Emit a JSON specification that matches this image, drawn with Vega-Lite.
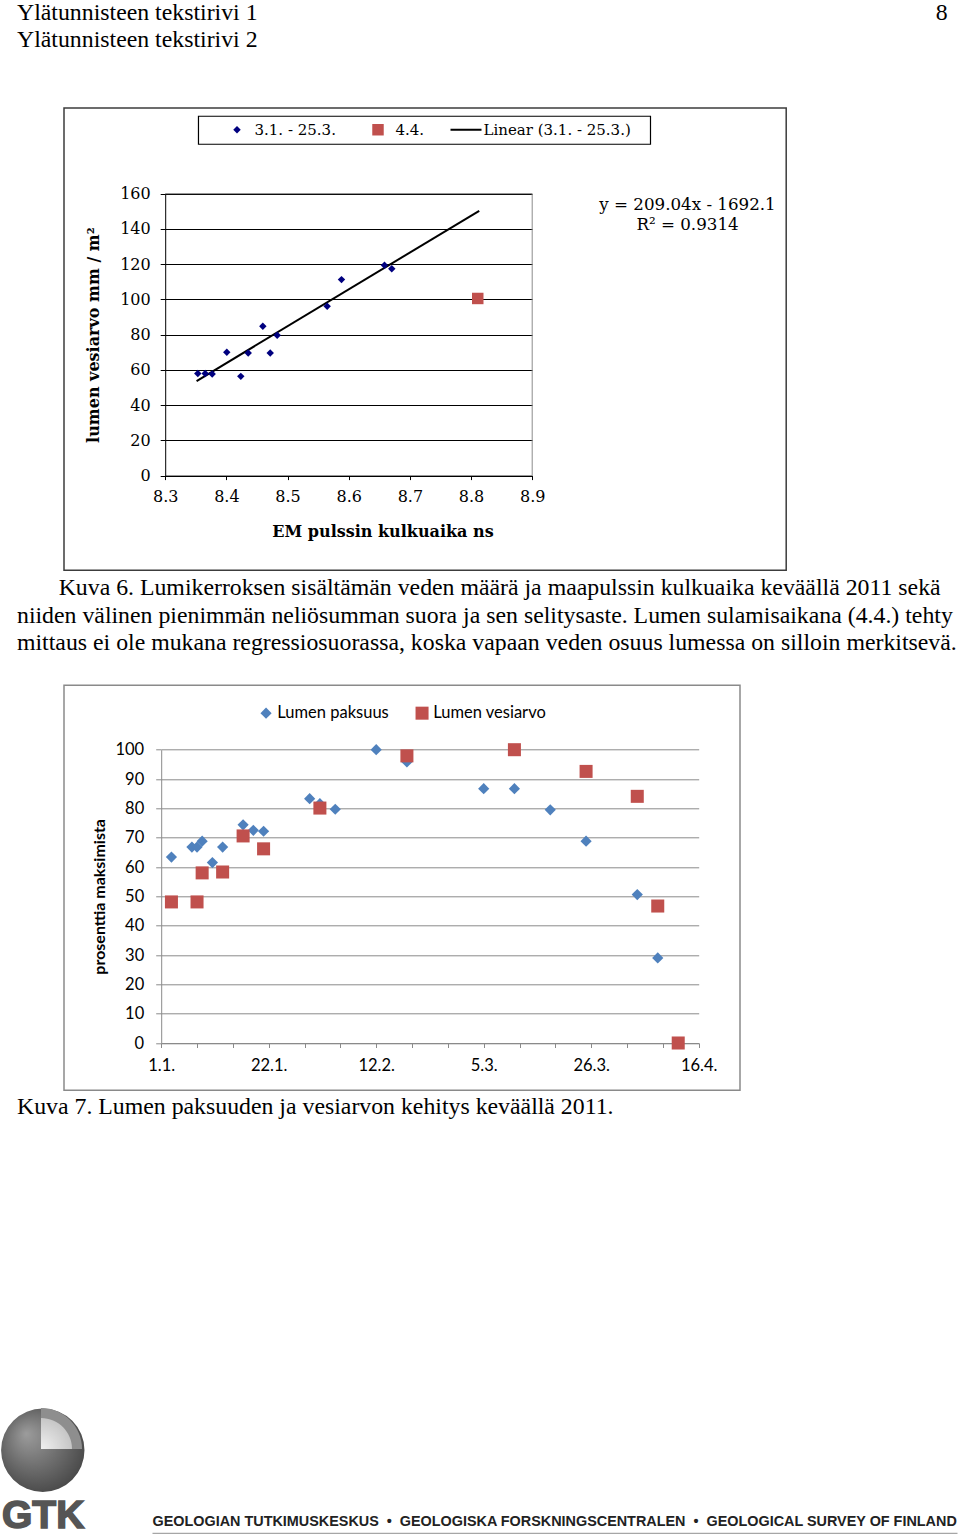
{
  "$schema": "https://vega.github.io/schema/vega-lite/v6.json",
  "background": "white",
  "autosize": {"type": "pad"},
  "padding": {"left": 1, "top": 0, "right": 0, "bottom": 0},
  "spacing": 114.3,
  "bounds": "flush",
  "resolve": {"scale": {"color": "independent", "shape": "independent"}},
  "config": {
    "view": {"stroke": null},
    "axis": {"labelFlush": false, "labelOverlap": false, "grid": false},
    "title": {"font": "Liberation Serif", "fontSize": 23.8, "fontWeight": "normal", "color": "#000", "anchor": "start", "frame": "group"}
  },
  "vconcat": [
    {
      "width": 722.2,
      "height": 462.3,
      "view": {"stroke": "#3c3c3c", "strokeWidth": 1.5},
      "title": {"text": ["Ylätunnisteen tekstirivi 1\u2003\u2003\u2003\u2003\u2003\u2003\u2003\u2003\u2003\u2003\u2003\u2003\u2003\u2003\u2003\u2003\u2003\u2003\u2003\u2003\u2003\u2003\u2003\u2003\u2003\u2003\u2003\u2003\u00a0\u00a08", "Ylätunnisteen tekstirivi 2"], "dx": -47, "offset": 56, "lineHeight": 27},
      "layer": [
        {
          "data": {"values": [{"edge": "top"}]},
          "mark": {"type": "rule", "color": "#8c8c8c", "strokeWidth": 1},
          "encoding": {
            "x": {"datum": 8.3, "type": "quantitative", "scale": {"domain": [8.3, 8.9], "range": [101.2, 468.2], "zero": false, "nice": false}},
            "x2": {"datum": 8.9},
            "y": {"datum": 160, "type": "quantitative", "scale": {"domain": [0, 160], "range": [367.6, 85.6], "zero": false, "nice": false}}
          }
        },
        {
          "data": {"values": [{"edge": "right"}]},
          "mark": {"type": "rule", "color": "#8c8c8c", "strokeWidth": 1},
          "encoding": {
            "x": {"datum": 8.9, "type": "quantitative"},
            "y": {"datum": 0, "type": "quantitative"},
            "y2": {"datum": 160}
          }
        },
        {
          "data": {"values": [{"box": "legend frame"}]},
          "mark": {"type": "rect", "filled": false, "stroke": "#000", "strokeWidth": 1.2},
          "encoding": {
            "x": {"datum": 8.3544, "type": "quantitative"},
            "x2": {"datum": 9.0934},
            "y": {"datum": 203.9, "type": "quantitative"},
            "y2": {"datum": 188.0}
          }
        },
        {
          "data": {"values": [{"ns": 8.3513, "mm": 53.66}, {"ns": 8.8134, "mm": 150.25}]},
          "mark": {"type": "line", "color": "#000", "strokeWidth": 2},
          "encoding": {
            "x": {"field": "ns", "type": "quantitative"},
            "y": {"field": "mm", "type": "quantitative"}
          }
        },
        {
          "data": {"values": [
            {"ns": 8.3533, "mm": 57.9, "series": "3.1. - 25.3."},
            {"ns": 8.3654, "mm": 57.9, "series": "3.1. - 25.3."},
            {"ns": 8.3768, "mm": 57.6, "series": "3.1. - 25.3."},
            {"ns": 8.4007, "mm": 70.0, "series": "3.1. - 25.3."},
            {"ns": 8.4236, "mm": 56.3, "series": "3.1. - 25.3."},
            {"ns": 8.4357, "mm": 69.6, "series": "3.1. - 25.3."},
            {"ns": 8.4596, "mm": 84.7, "series": "3.1. - 25.3."},
            {"ns": 8.4717, "mm": 69.6, "series": "3.1. - 25.3."},
            {"ns": 8.4831, "mm": 79.6, "series": "3.1. - 25.3."},
            {"ns": 8.5648, "mm": 96.1, "series": "3.1. - 25.3."},
            {"ns": 8.5882, "mm": 111.2, "series": "3.1. - 25.3."},
            {"ns": 8.6585, "mm": 119.3, "series": "3.1. - 25.3."},
            {"ns": 8.6704, "mm": 117.4, "series": "3.1. - 25.3."},
            {"ns": 8.811, "mm": 100.5, "series": "4.4."}
          ]},
          "mark": {"type": "point", "filled": true, "opacity": 1, "size": 961, "strokeWidth": 0},
          "encoding": {
            "x": {"field": "ns", "type": "quantitative",
              "axis": {"values": [8.3, 8.4, 8.5, 8.6, 8.7, 8.8, 8.9], "format": ".1f", "orient": "bottom", "offset": -94.7,
                "domainColor": "#000", "domainWidth": 1, "tickColor": "#000", "tickSize": 4, "tickWidth": 1,
                "labelFont": "DejaVu Serif", "labelFontSize": 16, "labelColor": "#000", "labelPadding": 9,
                "title": "EM pulssin kulkuaika ns", "titleFont": "DejaVu Serif", "titleFontSize": 16, "titleFontWeight": "bold", "titleColor": "#000", "titlePadding": 19, "titleX": 318.5, "grid": false}},
            "y": {"field": "mm", "type": "quantitative",
              "axis": {"values": [0, 20, 40, 60, 80, 100, 120, 140, 160], "orient": "left", "offset": -101.2,
                "domainColor": "#000", "domainWidth": 1, "tickColor": "#000", "tickSize": 5, "tickWidth": 1,
                "labelFont": "DejaVu Serif", "labelFontSize": 16, "labelColor": "#000", "labelPadding": 10,
                "title": "lumen vesiarvo mm / m²", "titleFont": "DejaVu Serif", "titleFontSize": 16, "titleFontWeight": "bold", "titleColor": "#000", "titlePadding": 18,
                "grid": true, "gridColor": "#000", "gridWidth": 1}},
            "color": {"field": "series", "type": "nominal",
              "scale": {"domain": ["3.1. - 25.3.", "4.4.", "Linear (3.1. - 25.3.)"], "range": ["#00007f", "#C0504D", "#000000"]},
              "legend": {"orient": "none", "legendX": 157.5, "legendY": 6, "direction": "horizontal", "title": null,
                "labelFont": "DejaVu Serif", "labelFontSize": 15, "labelColor": "#000", "labelOffset": 2, "labelLimit": 400,
                "symbolSize": 961, "symbolStrokeWidth": 0, "columnPadding": 26, "padding": 0}},
            "shape": {"field": "series", "type": "nominal",
              "scale": {"domain": ["3.1. - 25.3.", "4.4.", "Linear (3.1. - 25.3.)"], "range": ["M-0.24,0L0,-0.24L0.24,0L0,0.24Z", "M-0.37,-0.37H0.37V0.37H-0.37Z", "M-1,-0.065H1V0.065H-1Z"]}}
          }
        },
        {
          "data": {"values": [{"label": "trendline equation"}]},
          "mark": {"type": "text", "font": "DejaVu Serif", "fontSize": 16.7, "align": "center", "baseline": "middle", "lineHeight": 20, "color": "#000"},
          "encoding": {
            "x": {"datum": 9.1539, "type": "quantitative"},
            "y": {"datum": 153.4, "type": "quantitative"},
            "text": {"value": ["y = 209.04x - 1692.1", "R² = 0.9314"]}
          }
        }
      ]
    },
    {
      "width": 676,
      "height": 405,
      "view": {"stroke": "#8a8a8a", "strokeWidth": 1.5},
      "title": {"text": [
        "\u200b\u00a0\u00a0\u00a0\u00a0\u00a0\u00a0\u00a0Kuva 6. Lumikerroksen sisältämän veden määrä ja maapulssin kulkuaika keväällä 2011 sekä",
        "niiden välinen pienimmän neliösumman suora ja sen selitysaste. Lumen sulamisaikana (4.4.) tehty",
        "mittaus ei ole mukana regressiosuorassa, koska vapaan veden osuus lumessa on silloin merkitsevä."
      ], "dx": -47, "offset": 30.3, "lineHeight": 27.5},
      "data": {"values": [
        {"date": "2011-01-03", "pct": 63.4, "series": "Lumen paksuus"},
        {"date": "2011-01-07", "pct": 66.8, "series": "Lumen paksuus"},
        {"date": "2011-01-08", "pct": 66.8, "series": "Lumen paksuus"},
        {"date": "2011-01-09", "pct": 68.8, "series": "Lumen paksuus"},
        {"date": "2011-01-11", "pct": 61.5, "series": "Lumen paksuus"},
        {"date": "2011-01-13", "pct": 66.8, "series": "Lumen paksuus"},
        {"date": "2011-01-17", "pct": 74.4, "series": "Lumen paksuus"},
        {"date": "2011-01-19", "pct": 72.5, "series": "Lumen paksuus"},
        {"date": "2011-01-21", "pct": 72.2, "series": "Lumen paksuus"},
        {"date": "2011-01-30", "pct": 83.3, "series": "Lumen paksuus"},
        {"date": "2011-02-01", "pct": 81.6, "series": "Lumen paksuus"},
        {"date": "2011-02-04", "pct": 79.7, "series": "Lumen paksuus"},
        {"date": "2011-02-12", "pct": 100, "series": "Lumen paksuus"},
        {"date": "2011-02-18", "pct": 95.8, "series": "Lumen paksuus"},
        {"date": "2011-03-05", "pct": 86.7, "series": "Lumen paksuus"},
        {"date": "2011-03-11", "pct": 86.7, "series": "Lumen paksuus"},
        {"date": "2011-03-18", "pct": 79.5, "series": "Lumen paksuus"},
        {"date": "2011-03-25", "pct": 68.8, "series": "Lumen paksuus"},
        {"date": "2011-04-04", "pct": 50.6, "series": "Lumen paksuus"},
        {"date": "2011-04-08", "pct": 29.0, "series": "Lumen paksuus"},
        {"date": "2011-01-03", "pct": 48.1, "series": "Lumen vesiarvo"},
        {"date": "2011-01-08", "pct": 48.1, "series": "Lumen vesiarvo"},
        {"date": "2011-01-09", "pct": 58.0, "series": "Lumen vesiarvo"},
        {"date": "2011-01-13", "pct": 58.3, "series": "Lumen vesiarvo"},
        {"date": "2011-01-17", "pct": 70.6, "series": "Lumen vesiarvo"},
        {"date": "2011-01-21", "pct": 66.2, "series": "Lumen vesiarvo"},
        {"date": "2011-02-01", "pct": 80.1, "series": "Lumen vesiarvo"},
        {"date": "2011-02-18", "pct": 97.9, "series": "Lumen vesiarvo"},
        {"date": "2011-03-11", "pct": 100, "series": "Lumen vesiarvo"},
        {"date": "2011-03-25", "pct": 92.6, "series": "Lumen vesiarvo"},
        {"date": "2011-04-04", "pct": 84.1, "series": "Lumen vesiarvo"},
        {"date": "2011-04-08", "pct": 46.7, "series": "Lumen vesiarvo"},
        {"date": "2011-04-12", "pct": 0, "series": "Lumen vesiarvo"}
      ]},
      "mark": {"type": "point", "filled": true, "opacity": 1, "size": 196, "strokeWidth": 0},
      "encoding": {
        "x": {"field": "date", "type": "temporal",
          "scale": {"type": "utc", "domain": [1293840000000, 1302912000000], "range": [97.2, 634.7], "nice": false},
          "axis": {"values": [1293840000000, 1294444800000, 1295049600000, 1295654400000, 1296259200000, 1296864000000, 1297468800000, 1298073600000, 1298678400000, 1299283200000, 1299888000000, 1300492800000, 1301097600000, 1301702400000, 1302307200000, 1302912000000],
            "labelExpr": "((datum.value - 1293840000000) / 86400000) % 21 == 0 ? utcFormat(datum.value, '%-d.%-m.') : ''",
            "orient": "bottom", "offset": -47.3, "domainColor": "#8a8a8a", "domainWidth": 1, "tickColor": "#8a8a8a", "tickSize": 4.5, "tickWidth": 1,
            "labelFont": "Lato", "labelFontSize": 16.5, "labelColor": "#000", "labelPadding": 10, "title": null, "grid": false}},
        "y": {"field": "pct", "type": "quantitative",
          "scale": {"domain": [0, 100], "range": [357.7, 64.4], "zero": false, "nice": false},
          "axis": {"values": [0, 10, 20, 30, 40, 50, 60, 70, 80, 90, 100], "orient": "left", "offset": -97.2,
            "domainColor": "#8a8a8a", "domainWidth": 1, "tickColor": "#8a8a8a", "tickSize": 5.5, "tickWidth": 1,
            "labelFont": "Lato", "labelFontSize": 16.5, "labelColor": "#000", "labelPadding": 12,
            "title": "prosenttia maksimista", "titleFont": "Lato", "titleFontSize": 16, "titleFontWeight": "bold", "titleColor": "#000", "titlePadding": 7,
            "grid": true, "gridColor": "#8a8a8a", "gridWidth": 1}},
        "color": {"field": "series", "type": "nominal",
          "scale": {"domain": ["Lumen paksuus", "Lumen vesiarvo"], "range": ["#4F81BD", "#C0504D"]},
          "legend": {"orient": "none", "legendX": 193.8, "legendY": 19.5, "direction": "horizontal", "title": null,
            "labelFont": "Lato", "labelFontSize": 16.5, "labelColor": "#000", "labelOffset": 3, "labelLimit": 300,
            "symbolSize": 196, "symbolStrokeWidth": 0, "columnPadding": 25, "padding": 0}},
        "shape": {"field": "series", "type": "nominal",
          "scale": {"domain": ["Lumen paksuus", "Lumen vesiarvo"], "range": ["M-0.8,0L0,-0.8L0.8,0L0,0.8Z", "M-0.93,-0.93H0.93V0.93H-0.93Z"]}}
      }
    },
    {
      "width": 895.5,
      "height": 331.4,
      "view": {"stroke": null},
      "title": {"text": "Kuva 7. Lumen paksuuden ja vesiarvon kehitys keväällä 2011.", "dx": -47, "offset": 85.5},
      "layer": [
        {
          "data": {"values": [{"part": "sphere"}]},
          "mark": {"type": "point", "shape": "circle", "filled": true, "opacity": 1, "size": 6956, "strokeWidth": 0,
            "fill": {"gradient": "radial", "x1": 0.3, "y1": 0.3, "r1": 0, "x2": 0.45, "y2": 0.45, "r2": 0.6,
              "stops": [{"offset": 0, "color": "#9c9c9c"}, {"offset": 1, "color": "#474747"}]}},
          "encoding": {
            "x": {"datum": 43.3, "type": "quantitative", "scale": {"domain": [0, 960], "range": [-64.5, 895.5], "zero": false, "nice": false}, "axis": null},
            "y": {"datum": 1448.3, "type": "quantitative", "scale": {"domain": [0, 1534], "range": [-1202.6, 331.4], "zero": false, "nice": false}, "axis": null}
          }
        },
        {
          "data": {"values": [{"part": "cut rim"}]},
          "mark": {"type": "point", "shape": "M0,0V-1A1,1,0,0,1,1,0Z", "filled": true, "opacity": 1, "size": 6724, "strokeWidth": 0, "fill": "#8e8e8e"},
          "encoding": {"x": {"datum": 41.5, "type": "quantitative", "axis": null}, "y": {"datum": 1447, "type": "quantitative", "axis": null}}
        },
        {
          "data": {"values": [{"part": "cut core"}]},
          "mark": {"type": "point", "shape": "M0,0V-1A1,1,0,0,1,1,0Z", "filled": true, "opacity": 1, "size": 3844, "strokeWidth": 0,
            "fill": {"gradient": "radial", "x1": 0, "y1": 1, "r1": 0, "x2": 0, "y2": 1, "r2": 1,
              "stops": [{"offset": 0, "color": "#f0f0f0"}, {"offset": 1, "color": "#c6c6c6"}]}},
          "encoding": {"x": {"datum": 41.5, "type": "quantitative", "axis": null}, "y": {"datum": 1447, "type": "quantitative", "axis": null}}
        },
        {
          "data": {"values": [{"label": "GTK"}]},
          "mark": {"type": "text", "font": "Liberation Sans", "fontSize": 39, "fontWeight": "bold", "align": "left", "baseline": "alphabetic", "color": "#555555", "stroke": "#555555", "strokeWidth": 1.6},
          "encoding": {"x": {"datum": 2.5, "type": "quantitative", "axis": null}, "y": {"datum": 1526, "type": "quantitative", "axis": null}, "text": {"field": "label"}}
        },
        {
          "data": {"values": [{"label": "GEOLOGIAN TUTKIMUSKESKUS\u00a0\u00a0•\u00a0\u00a0GEOLOGISKA FORSKNINGSCENTRALEN\u00a0\u00a0•\u00a0\u00a0GEOLOGICAL SURVEY OF FINLAND"}]},
          "mark": {"type": "text", "font": "Liberation Sans", "fontSize": 14.4, "fontWeight": "bold", "align": "left", "baseline": "alphabetic", "color": "#222"},
          "encoding": {"x": {"datum": 153, "type": "quantitative", "axis": null}, "y": {"datum": 1523.5, "type": "quantitative", "axis": null}, "text": {"field": "label"}}
        },
        {
          "data": {"values": [{"label": "footer rule"}]},
          "mark": {"type": "rule", "color": "#a6a6a6", "strokeWidth": 1.5},
          "encoding": {"x": {"datum": 153, "type": "quantitative", "axis": null}, "x2": {"datum": 958}, "y": {"datum": 1531.5, "type": "quantitative", "axis": null}}
        }
      ]
    }
  ]
}
